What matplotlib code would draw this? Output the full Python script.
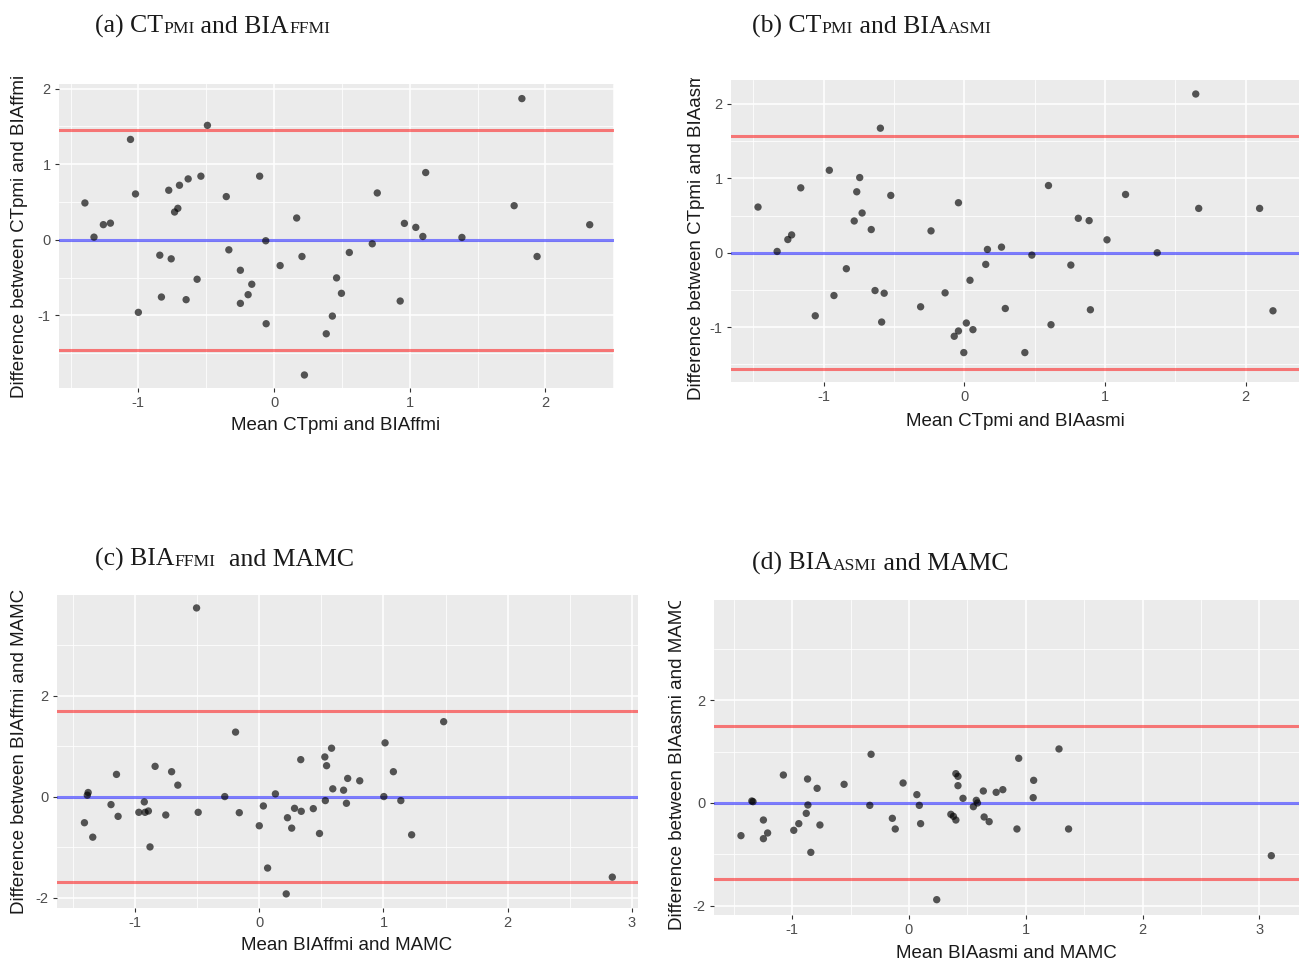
import matplotlib
matplotlib.use("Agg")
import matplotlib.pyplot as plt
from matplotlib.transforms import Bbox

plt.rcParams["axes.unicode_minus"] = False

# ---------------- data ----------------
a_x = [-1.394, -1.327, -1.258, -1.206, -1.058, -1.021, -1.0, -0.842, -0.830, -0.776,
       -0.758, -0.733, -0.709, -0.697, -0.648, -0.633, -0.567, -0.539, -0.491, -0.352,
       -0.333, -0.248, -0.248, -0.191, -0.164, -0.106, -0.061, -0.058, 0.045, 0.167,
       0.206, 0.224, 0.385, 0.430, 0.461, 0.497, 0.555, 0.724, 0.761, 0.930,
       0.961, 1.045, 1.097, 1.118, 1.385, 1.770, 1.827, 1.939, 2.327]
a_y = [0.487, 0.035, 0.20, 0.22, 1.327, 0.606, -0.96, -0.204, -0.757, 0.655,
       -0.252, 0.367, 0.416, 0.721, -0.792, 0.805, -0.522, 0.841, 1.513, 0.571,
       -0.133, -0.403, -0.841, -0.726, -0.588, 0.841, -0.013, -1.11, -0.341, 0.288,
       -0.221, -1.788, -1.243, -1.009, -0.504, -0.708, -0.168, -0.053, 0.619, -0.810,
       0.217, 0.164, 0.044, 0.889, 0.031, 0.451, 1.867, -0.221, 0.199]
a_limits = [1.447, 0.0, -1.451]

b_x = [-1.466, -1.330, -1.254, -1.227, -1.162, -1.059, -0.959, -0.926, -0.838, -0.782,
       -0.764, -0.743, -0.726, -0.661, -0.634, -0.596, -0.587, -0.569, -0.522, -0.310,
       -0.236, -0.136, -0.071, -0.041, -0.041, -0.003, 0.015, 0.041, 0.062, 0.153,
       0.165, 0.265, 0.292, 0.431, 0.481, 0.599, 0.617, 0.758, 0.811, 0.888,
       0.897, 1.015, 1.147, 1.372, 1.646, 1.667, 2.100, 2.195]
b_y = [0.614, 0.018, 0.178, 0.240, 0.872, -0.846, 1.108, -0.574, -0.214, 0.427,
       0.819, 1.010, 0.534, 0.312, -0.507, 1.673, -0.930, -0.543, 0.770, -0.725,
       0.294, -0.538, -1.121, 0.672, -1.050, -1.340, -0.943, -0.369, -1.032, -0.156,
       0.045, 0.076, -0.748, -1.340, -0.031, 0.903, -0.966, -0.165, 0.463, 0.432,
       -0.765, 0.174, 0.783, 0.0, 2.132, 0.596, 0.596, -0.779]
b_limits = [1.571, 0.0, -1.558]

c_x = [-1.408, -1.385, -1.378, -1.341, -1.194, -1.150, -1.137, -0.970, -0.926, -0.920,
       -0.893, -0.880, -0.839, -0.753, -0.706, -0.656, -0.505, -0.492, -0.278, -0.191,
       -0.161, 0.0, 0.033, 0.067, 0.130, 0.217, 0.227, 0.261, 0.284, 0.334,
       0.338, 0.435, 0.485, 0.528, 0.532, 0.542, 0.582, 0.592, 0.679, 0.702,
       0.712, 0.809, 1.003, 1.013, 1.080, 1.140, 1.227, 1.485, 2.843]
c_y = [-0.518, 0.027, 0.080, -0.804, -0.159, 0.439, -0.392, -0.312, -0.106, -0.312,
       -0.286, -0.997, 0.598, -0.365, 0.492, 0.226, 3.734, -0.312, 0.0, 1.276,
       -0.319, -0.578, -0.186, -1.415, 0.053, -1.927, -0.419, -0.625, -0.233, 0.731,
       -0.292, -0.239, -0.731, 0.784, -0.080, 0.611, 0.957, 0.153, 0.126, -0.133,
       0.359, 0.312, 0.0, 1.063, 0.492, -0.080, -0.757, 1.482, -1.595]
c_limits = [1.694, 0.0, -1.694]

d_x = [-1.438, -1.345, -1.335, -1.246, -1.246, -1.210, -1.075, -0.986, -0.943, -0.879,
       -0.868, -0.865, -0.840, -0.786, -0.762, -0.555, -0.335, -0.324, -0.142, -0.117,
       -0.050, 0.068, 0.089, 0.100, 0.238, 0.359, 0.381, 0.402, 0.402, 0.420,
       0.420, 0.463, 0.552, 0.577, 0.587, 0.637, 0.644, 0.687, 0.747, 0.804,
       0.925, 0.940, 1.064, 1.068, 1.285, 1.367, 3.103]
d_y = [-0.637, 0.039, 0.026, -0.332, -0.696, -0.585, 0.546, -0.533, -0.403, -0.202,
       0.468, -0.039, -0.963, 0.286, -0.429, 0.364, -0.046, 0.950, -0.299, -0.507,
       0.390, 0.163, -0.046, -0.403, -1.886, -0.221, -0.260, -0.332, 0.572, 0.520,
       0.338, 0.091, -0.072, 0.052, 0.0, 0.234, -0.273, -0.364, 0.208, 0.260,
       -0.507, 0.872, 0.104, 0.442, 1.054, -0.507, -1.028]
d_limits = [1.496, 0.0, -1.483]

titles = [
    [("(a) CT", False), ("PMI", True), (" and BIA", False), ("FFMI", True)],
    [("(b) CT", False), ("PMI", True), (" and BIA", False), ("ASMI", True)],
    [("(c) BIA", False), ("FFMI", True), ("  and MAMC", False)],
    [("(d) BIA", False), ("ASMI", True), (" and MAMC", False)],
]
x_labels = ["Mean CTpmi and BIAffmi", "Mean CTpmi and BIAasmi",
            "Mean BIAffmi and MAMC", "Mean BIAasmi and MAMC"]
y_labels = ["Difference between CTpmi and BIAffmi", "Difference between CTpmi and BIAasmi",
            "Difference between BIAffmi and MAMC", "Difference between BIAasmi and MAMC"]

# ---------------- layout (pixels in a 1299x964 canvas) ----------------
W, H = 1299, 964
fig = plt.figure(figsize=(W / 100, H / 100), dpi=100)
fig.patch.set_facecolor("white")


def fx(x):
    return x / W


def fy(y):
    return 1 - y / H


panels = [
    dict(x=a_x, y=a_y, lim=a_limits, box=(59, 84, 614, 388), xl=(-1.585, 2.506), yl=(-1.96, 2.06),
         xt=[-1, 0, 1, 2], yt=[-1, 0, 1, 2], xm=[-1.5, -0.5, 0.5, 1.5, 2.5], ym=[-1.5, -0.5, 0.5, 1.5],
         title_pos=(95, 33), xlab_pos=(336, 425), ylab_pos=(20, 236), clip_top=None),
    dict(x=b_x, y=b_y, lim=b_limits, box=(731, 80, 1299, 382), xl=(-1.658, 2.38), yl=(-1.735, 2.32),
         xt=[-1, 0, 1, 2], yt=[-1, 0, 1, 2], xm=[-1.5, -0.5, 0.5, 1.5], ym=[-1.5, -0.5, 0.5, 1.5],
         title_pos=(752, 33), xlab_pos=(1015, 421), ylab_pos=(697, 234), clip_top=78),
    dict(x=c_x, y=c_y, lim=c_limits, box=(57, 595, 638, 908), xl=(-1.629, 3.05), yl=(-2.206, 3.99),
         xt=[-1, 0, 1, 2, 3], yt=[-2, 0, 2], xm=[-1.5, -0.5, 0.5, 1.5, 2.5], ym=[-1, 1, 3],
         title_pos=(95, 566), xlab_pos=(347, 945), ylab_pos=(20, 751), clip_top=None),
    dict(x=d_x, y=d_y, lim=d_limits, box=(714, 600, 1299, 915), xl=(-1.669, 3.34), yl=(-2.185, 3.96),
         xt=[-1, 0, 1, 2, 3], yt=[-2, 0, 2], xm=[-1.5, -0.5, 0.5, 1.5, 2.5], ym=[-1, 1, 3],
         title_pos=(752, 570), xlab_pos=(1006, 953), ylab_pos=(677, 763), clip_top=601),
]

renderer = fig.canvas.get_renderer()
TITLE_SIZE = 18.5
SMALL = 0.68
LABEL_FONT = "Liberation Sans"
LABEL_SIZE = 13.5

for i, p in enumerate(panels):
    l, t, r, b = p["box"]
    ax = fig.add_axes([fx(l), fy(b), fx(r - l), (b - t) / H])
    ax.set_facecolor("#EBEBEB")
    for s in ax.spines.values():
        s.set_visible(False)
    ax.set_axisbelow(True)
    ax.set_xlim(*p["xl"])
    ax.set_ylim(*p["yl"])
    ax.set_xticks(p["xt"])
    ax.set_yticks(p["yt"])
    ax.set_xticks(p["xm"], minor=True)
    ax.set_yticks(p["ym"], minor=True)
    ax.set_xticklabels([str(v) for v in p["xt"]], fontfamily=LABEL_FONT)
    ax.set_yticklabels([str(v) for v in p["yt"]], fontfamily=LABEL_FONT)
    ax.grid(which="major", color="white", lw=1.1)
    ax.grid(which="minor", color="white", lw=0.55)
    ax.tick_params(which="minor", length=0)
    ax.tick_params(which="major", length=3, width=0.8, color="#333333",
                   labelcolor="#4D4D4D", labelsize=10.5, pad=3)

    up, mid, lo = p["lim"]
    ax.axhline(up, color="red", alpha=0.5, lw=2.2, zorder=2)
    ax.axhline(lo, color="red", alpha=0.5, lw=2.2, zorder=2)
    ax.axhline(mid, color="blue", alpha=0.5, lw=2.2, zorder=2)
    ax.scatter(p["x"], p["y"], s=28, color="black", alpha=0.65, edgecolors="none", zorder=3)

    # title with small-caps subscripts
    cx, cy = p["title_pos"]
    for txt, small in titles[i]:
        tt = fig.text(fx(cx), fy(cy), txt, fontsize=TITLE_SIZE * (SMALL if small else 1.0),
                      family="Liberation Serif", va="baseline", ha="left", color="#1a1a1a")
        cx += tt.get_window_extent(renderer).width

    # axis titles
    xx, xy = p["xlab_pos"]
    fig.text(fx(xx), fy(xy), x_labels[i], ha="center", va="center", fontsize=LABEL_SIZE,
             family=LABEL_FONT, color="#1a1a1a")
    yx, yy = p["ylab_pos"]
    yt_ = fig.text(fx(yx), fy(yy), y_labels[i], ha="center", va="center", rotation=90,
                   fontsize=LABEL_SIZE, family=LABEL_FONT, color="#1a1a1a")
    if p["clip_top"] is not None:
        yt_.set_clip_box(Bbox([[0, 0], [W, H - p["clip_top"]]]))
        yt_.set_clip_on(True)

fig.savefig("out.png", dpi=100, facecolor="white")
